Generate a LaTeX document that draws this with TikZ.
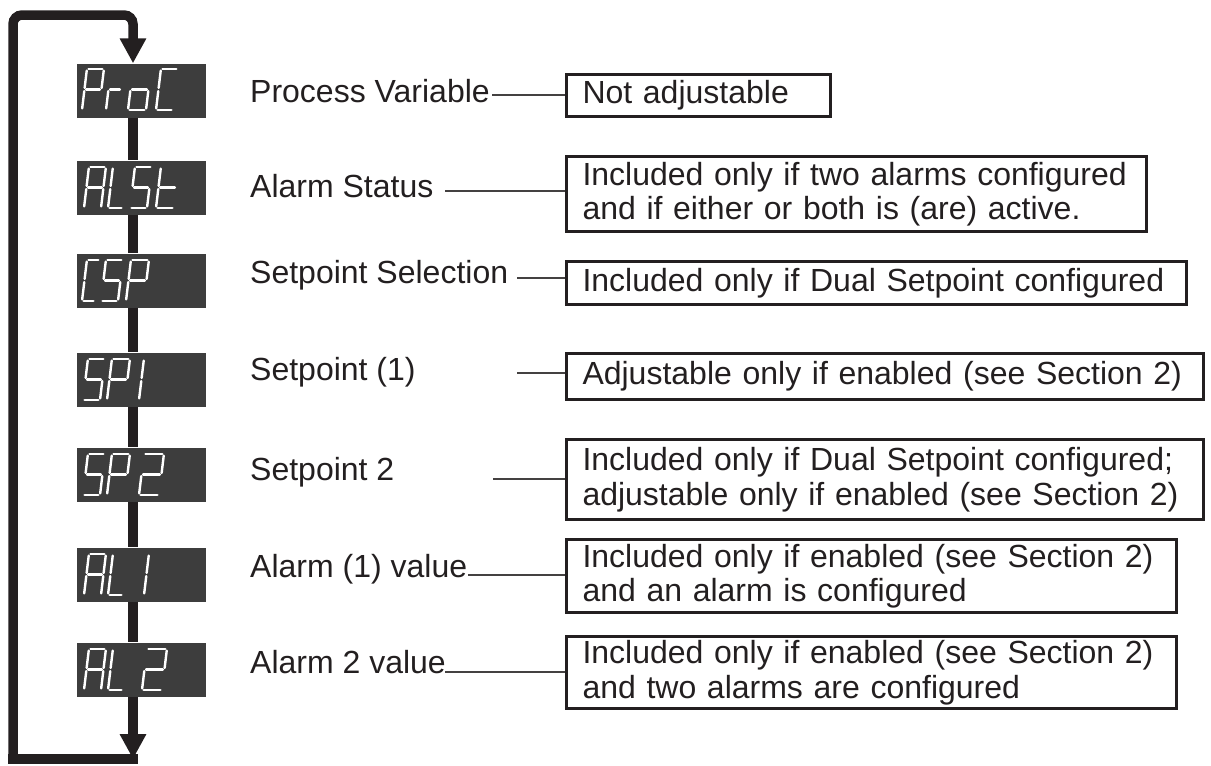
\documentclass[tikz,border=0pt]{standalone}
\usepackage{fontspec}
\setmainfont{Liberation Sans}
\usetikzlibrary{arrows.meta}
\definecolor{ink}{HTML}{231F20}
\definecolor{lcd}{HTML}{3D3D3D}
\def\gh{41}
\def\gm{20.5}
\def\gp{1.6}
\newcommand\segA{\draw[segl] (\gp,\gh) -- ({\gw-\gp},\gh);}
\newcommand\segB{\draw[segl] (\gw,{\gh-\gp}) -- (\gw,{\gm+\gp});}
\newcommand\segC{\draw[segl] (\gw,{\gm-\gp}) -- (\gw,\gp);}
\newcommand\segD{\draw[segl] (\gp,0) -- ({\gw-\gp},0);}
\newcommand\segE{\draw[segl] (0,\gp) -- (0,{\gm-\gp});}
\newcommand\segF{\draw[segl] (0,{\gm+\gp}) -- (0,{\gh-\gp});}
\newcommand\segG{\draw[segl] (\gp,\gm) -- ({\gw-\gp},\gm);}
\newcommand\sevglyph[4]{\begin{scope}[shift={(#1,#2)},yscale=-1,xslant=-0.12]\def\gw{#3}\foreach \s in {#4}{\csname seg\s\endcsname}\end{scope}}
\begin{document}
\begin{tikzpicture}[x=1pt,y=-1pt,
  flow/.style={draw=ink,line width=9.5pt},
  disp/.style={fill=lcd,draw=none,minimum width=129pt,minimum height=54pt,inner sep=0pt},
  segl/.style={draw=white,line width=2.4pt,line cap=round},
  lbl/.style={font=\fontsize{32}{34.5}\selectfont,text=ink,inner sep=0pt,anchor=base west},
  infobox/.style={draw=ink,line width=3pt,font=\fontsize{32}{34.5}\selectfont,text=ink,align=left,inner xsep=16pt,inner ysep=0pt,anchor=north west},
  conn/.style={draw=ink!85,line width=1.2pt},
  arrowend/.style={-{Triangle[length=25pt,width=25pt]}}
]
\useasboundingbox (0,0) rectangle (1211,766);

% displays
\node[disp] (d1) at (141.5,90.5) {};
\node[disp] (d2) at (141.5,187.5) {};
\node[disp] (d3) at (141.5,280.5) {};
\node[disp] (d4) at (141.5,379.5) {};
\node[disp] (d5) at (141.5,474.5) {};
\node[disp] (d6) at (141.5,574.5) {};
\node[disp] (d7) at (141.5,669.5) {};

% loop
\coordinate (bl) at (13,759);
\coordinate (tl) at (13,15);
\coordinate (tr) at (133,15);
\coordinate (br) at (133,759);
\draw[flow,arrowend,rounded corners=9pt] (bl) -- (tl) -- (tr) -- (d1.north -| tr);
\draw[flow,line cap=rect] (br) -- (bl);
\draw[flow,arrowend] (d7.south -| tr) -- (br);
\draw[flow] (d1.south -| tr) -- (d2.north -| tr);
\draw[flow] (d2.south -| tr) -- (d3.north -| tr);
\draw[flow] (d3.south -| tr) -- (d4.north -| tr);
\draw[flow] (d4.south -| tr) -- (d5.north -| tr);
\draw[flow] (d5.south -| tr) -- (d6.north -| tr);
\draw[flow] (d6.south -| tr) -- (d7.north -| tr);

% glyphs
\sevglyph{82}{110}{17}{A,B,G,E,F}
\sevglyph{106}{110}{13}{E,G}
\sevglyph{128}{110}{18}{C,D,E,G}
\sevglyph{156}{110}{17}{A,D,E,F}

\sevglyph{84}{208}{17}{A,B,C,E,F,G}
\sevglyph{108}{208}{15}{D,E,F}
\sevglyph{130}{208}{17}{A,F,G,C,D}
\sevglyph{156}{208}{18}{D,E,F,G}

\sevglyph{82}{301}{13}{A,D,E,F}
\sevglyph{101}{301}{17}{A,F,G,C,D}
\sevglyph{126}{301}{18}{A,B,G,E,F}

\sevglyph{83}{400}{17}{A,F,G,C,D}
\sevglyph{107}{400}{18}{A,B,G,E,F}
\sevglyph{139}{400}{10}{E,F}

\sevglyph{83}{495}{17}{A,F,G,C,D}
\sevglyph{107}{495}{18}{A,B,G,E,F}
\sevglyph{139}{495}{20}{A,B,G,E,D}

\sevglyph{84}{595}{17}{A,B,C,E,F,G}
\sevglyph{108}{595}{15}{D,E,F}
\sevglyph{144}{595}{10}{E,F}

\sevglyph{84}{690}{17}{A,B,C,E,F,G}
\sevglyph{108}{690}{15}{D,E,F}
\sevglyph{142}{690}{20}{A,B,G,E,D}

% labels
\node[lbl] (l1) at (250,102) {Process Variable};
\node[lbl] (l2) at (250,197) {Alarm Status};
\node[lbl] (l3) at (250,283) {Setpoint Selection};
\node[lbl] (l4) at (250,380) {Setpoint (1)};
\node[lbl] (l5) at (250,480) {Setpoint 2};
\node[lbl] (l6) at (250,577) {Alarm (1) value};
\node[lbl] (l7) at (250,673) {Alarm 2 value};

% boxes
\node[infobox,minimum width=264pt,minimum height=42pt,text width=232pt] (b1) at (565,73) {Not adjustable};
\node[infobox,minimum width=580pt,minimum height=75pt,text width=548pt] (b2) at (565,155) {Included only if two alarms configured\\and if either or both is (are) active.};
\node[infobox,minimum width=620pt,minimum height=43pt,text width=588pt] (b3) at (565,260) {Included only if Dual Setpoint configured};
\node[infobox,minimum width=637pt,minimum height=46pt,text width=605pt] (b4) at (565,352) {Adjustable only if enabled (see Section 2)};
\node[infobox,minimum width=637pt,minimum height=80pt,text width=605pt] (b5) at (565,438) {Included only if Dual Setpoint configured;\\adjustable only if enabled (see Section 2)};
\node[infobox,minimum width=610pt,minimum height=73pt,text width=578pt] (b6) at (565,538) {Included only if enabled (see Section 2)\\and an alarm is configured};
\node[infobox,minimum width=610pt,minimum height=72pt,text width=578pt] (b7) at (565,635) {Included only if enabled (see Section 2)\\and two alarms are configured};

% connectors
\coordinate (c1) at (492,95);
\coordinate (c2) at (445,191);
\coordinate (c3) at (517,278);
\coordinate (c4) at (517,373);
\coordinate (c5) at (493,479);
\coordinate (c6) at (468,575);
\coordinate (c7) at (445,672);
\draw[conn] (c1) -- (c1 -| b1.west);
\draw[conn] (c2) -- (c2 -| b2.west);
\draw[conn] (c3) -- (c3 -| b3.west);
\draw[conn] (c4) -- (c4 -| b4.west);
\draw[conn] (c5) -- (c5 -| b5.west);
\draw[conn] (c6) -- (c6 -| b6.west);
\draw[conn] (c7) -- (c7 -| b7.west);
\end{tikzpicture}
\end{document}
